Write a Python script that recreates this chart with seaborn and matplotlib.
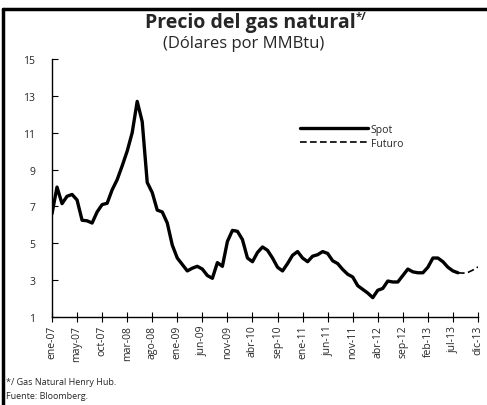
import numpy as np
import pandas as pd
import matplotlib
matplotlib.use('Agg')
import matplotlib.pyplot as plt
import seaborn as sns
from matplotlib.lines import Line2D

# datos (posicion mensual 0..85 sobre el eje)
tick_labels = ["ene-07", "may-07", "oct-07", "mar-08", "ago-08", "ene-09",
               "jun-09", "nov-09", "abr-10", "sep-10", "ene-11", "jun-11",
               "nov-11", "abr-12", "sep-12", "feb-13", "jul-13", "dic-13"]

spot = [6.6, 8.05, 7.15, 7.55, 7.65, 7.35, 6.25, 6.22, 6.1, 6.7,
        7.1, 7.17, 7.9, 8.45, 9.2, 10.0, 11.0, 12.7, 11.6, 8.3,
        7.75, 6.8, 6.7, 6.1, 4.9, 4.2, 3.85, 3.5, 3.65, 3.75,
        3.6, 3.25, 3.1, 3.95, 3.75, 5.1, 5.7, 5.65, 5.2, 4.2,
        4.0, 4.5, 4.8, 4.62, 4.2, 3.7, 3.5, 3.9, 4.35, 4.55,
        4.2, 4.0, 4.3, 4.38, 4.55, 4.45, 4.05, 3.9, 3.58, 3.32,
        3.17, 2.7, 2.5, 2.3, 2.05, 2.45, 2.55, 2.95, 2.9, 2.9,
        3.25, 3.6, 3.45, 3.4, 3.4, 3.7, 4.2, 4.2, 4.0, 3.7,
        3.5, 3.4]
futuro = [3.4, 3.38, 3.42, 3.55, 3.72]

spot_df = pd.DataFrame({"pos": np.arange(len(spot)), "valor": spot})
fut_df = pd.DataFrame({"pos": np.arange(len(spot) - 1, len(spot) - 1 + len(futuro)),
                       "valor": futuro})

sns.set_style("white")
plt.rcParams['font.family'] = ['Open Sans', 'DejaVu Sans']

fig = plt.figure(figsize=(4.87, 4.06), dpi=100)
ax = fig.add_axes([52 / 487, 1 - 318 / 406, 426 / 487, 258 / 406])

sns.lineplot(data=spot_df, x="pos", y="valor", ax=ax, color="black",
             linewidth=2.4, label="Spot")
sns.lineplot(data=fut_df, x="pos", y="valor", ax=ax, color="black",
             linewidth=1.2, linestyle=(0, (4, 2)), label="Futuro")

ax.set_xlim(0, 85)
ax.set_ylim(1, 15)
ax.set_xticks(np.arange(0, 86, 5))
ax.set_xticklabels(tick_labels, rotation=90, fontsize=7.5)
ax.set_yticks(np.arange(1, 16, 2))
ax.tick_params(axis="y", left=True, direction="in", length=4, width=0.8,
               labelsize=7.5, pad=12, color="black")
ax.tick_params(axis="x", bottom=True, direction="inout", length=7, width=0.8,
               pad=2, color="black")
ax.set_xlabel("")
ax.set_ylabel("")
sns.despine(ax=ax)
for s in ["left", "bottom"]:
    ax.spines[s].set_linewidth(1.0)
    ax.spines[s].set_color("black")

leg = ax.legend(loc="upper left", bbox_to_anchor=(0.56, 0.785), frameon=False,
                fontsize=7.5, handlelength=6.5, handletextpad=0.3,
                labelspacing=0.3)

fig.text(250 / 487, 1 - 23 / 406, "Precio del gas natural", ha="center",
         va="center", fontsize=14, fontweight="bold")
fig.text(356 / 487, 1 - 17 / 406, "*/", ha="left", va="center",
         fontsize=8, fontweight="bold")
fig.text(0.5, 1 - 44 / 406, "(Dólares por MMBtu)", ha="center", va="center",
         fontsize=12)
fig.text(6 / 487, 1 - 383 / 406, "*/ Gas Natural Henry Hub.", ha="left",
         va="center", fontsize=6.5)
fig.text(6 / 487, 1 - 397 / 406, "Fuente: Bloomberg.", ha="left",
         va="center", fontsize=6.5)

# marco del recuadro (izquierda y arriba)
fig.add_artist(Line2D([3 / 487, 3 / 487], [0, 1 - 10 / 406], color="black",
                      linewidth=2.5, transform=fig.transFigure))
fig.add_artist(Line2D([3 / 487, 1], [1 - 10 / 406, 1 - 10 / 406], color="black",
                      linewidth=2.5, transform=fig.transFigure))

fig.savefig("out.png", dpi=100)
